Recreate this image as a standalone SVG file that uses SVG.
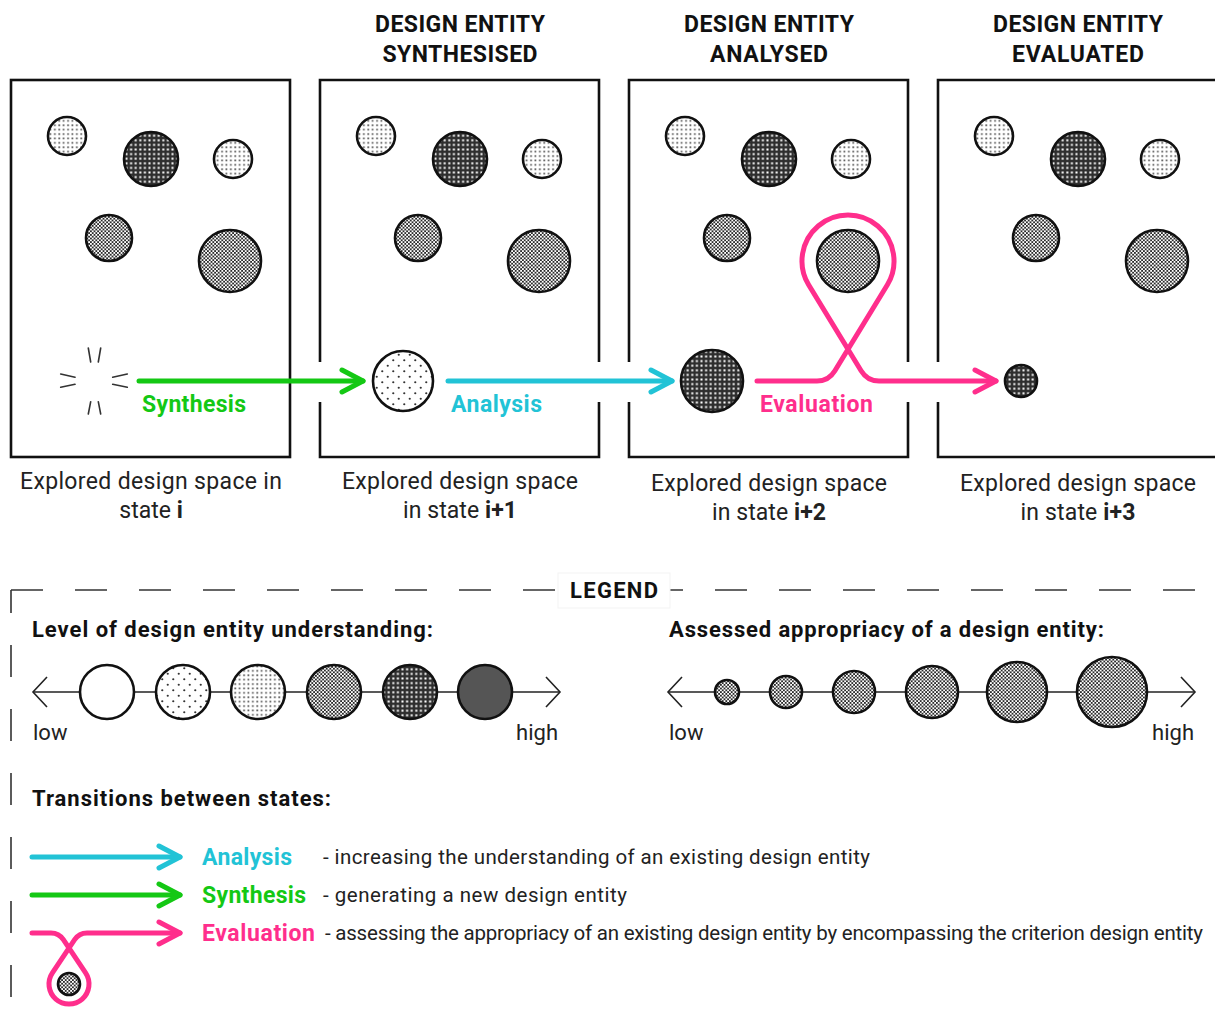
<svg xmlns="http://www.w3.org/2000/svg" width="1215" height="1023" viewBox="0 0 1215 1023">
<style>
text{font-family:Roboto,"Liberation Sans","DejaVu Sans",sans-serif;}
.title{font-size:23px;font-weight:bold;fill:#111;text-anchor:middle;}
.cap{font-size:23px;fill:#222;text-anchor:middle;}
.head{font-size:22px;font-weight:bold;fill:#111;}
.lbl{font-size:23px;font-weight:bold;}
.desc{font-size:20.5px;fill:#222;}
.sm{font-size:22px;fill:#222;}
.frame{fill:none;stroke:#111;stroke-width:2.6;}
.ent{stroke:#111;stroke-width:2.6;}
.spark{stroke:#333;stroke-width:1.6;stroke-linecap:round;fill:none;}
.axis{stroke:#222;stroke-width:1.6;fill:none;}
.dash{stroke:#333;stroke-width:1.6;fill:none;stroke-dasharray:32 32;}
.g{stroke:#14c814;}
.c{stroke:#22c3d6;}
.p{stroke:#ff2e8c;}
.flow{fill:none;stroke-width:5;stroke-linecap:round;stroke-linejoin:round;}
</style>
<defs>
<pattern id="pSparse" patternUnits="userSpaceOnUse" width="11" height="11">
<rect width="11" height="11" fill="#fff"/>
<circle cx="2.75" cy="2.75" r="1.1" fill="#333"/>
<circle cx="8.25" cy="8.25" r="1.1" fill="#333"/>
</pattern>
<pattern id="pLight" patternUnits="userSpaceOnUse" width="4.4" height="4.4">
<rect width="4.4" height="4.4" fill="#fff"/>
<rect x="1.2" y="1.2" width="1.7" height="1.7" fill="#555"/>
</pattern>
<pattern id="pCheck" patternUnits="userSpaceOnUse" width="3.6" height="3.6">
<rect width="3.6" height="3.6" fill="#fff"/>
<rect width="1.8" height="1.8" fill="#2a2a2a"/>
<rect x="1.8" y="1.8" width="1.8" height="1.8" fill="#2a2a2a"/>
</pattern>
<pattern id="pDark" patternUnits="userSpaceOnUse" width="4.6" height="4.6">
<rect width="4.6" height="4.6" fill="#2e2e2e"/>
<rect x="1.3" y="1.3" width="2" height="2" fill="#fff"/>
</pattern>
<marker id="mG" markerUnits="userSpaceOnUse" markerWidth="30" markerHeight="30" orient="auto" overflow="visible"><path d="M -21 -11 L 0 0 L -21 11" fill="none" stroke="#14c814" stroke-width="5" stroke-linecap="round" stroke-linejoin="round"/></marker>
<marker id="mC" markerUnits="userSpaceOnUse" markerWidth="30" markerHeight="30" orient="auto" overflow="visible"><path d="M -21 -11 L 0 0 L -21 11" fill="none" stroke="#22c3d6" stroke-width="5" stroke-linecap="round" stroke-linejoin="round"/></marker>
<marker id="mP" markerUnits="userSpaceOnUse" markerWidth="30" markerHeight="30" orient="auto" overflow="visible"><path d="M -21 -11 L 0 0 L -21 11" fill="none" stroke="#ff2e8c" stroke-width="5" stroke-linecap="round" stroke-linejoin="round"/></marker>
<g id="cluster">
<circle class="ent" cx="67" cy="136" r="19" fill="url(#pLight)"/>
<circle class="ent" cx="151" cy="159" r="27" fill="url(#pDark)"/>
<circle class="ent" cx="233" cy="159" r="19" fill="url(#pLight)"/>
<circle class="ent" cx="109" cy="238" r="23" fill="url(#pCheck)"/>
</g>
</defs>
<rect width="1215" height="1023" fill="#fff"/>

<!-- titles -->
<g id="titles">
<text class="title" x="460" y="32" textLength="170">DESIGN ENTITY</text>
<text class="title" x="460" y="62" textLength="155">SYNTHESISED</text>
<text class="title" x="769" y="32" textLength="170">DESIGN ENTITY</text>
<text class="title" x="769" y="62" textLength="118">ANALYSED</text>
<text class="title" x="1078" y="32" textLength="170">DESIGN ENTITY</text>
<text class="title" x="1078" y="62" textLength="132">EVALUATED</text>
</g>

<!-- panel 1 -->
<g id="panel-1">
<rect class="frame" x="11" y="80" width="279" height="377"/>
<use href="#cluster"/>
<circle class="ent" cx="230" cy="261" r="31" fill="url(#pCheck)"/>
<g class="spark">
<line x1="88.3" y1="348" x2="90.7" y2="362"/>
<line x1="100.7" y1="348" x2="98.3" y2="362"/>
<line x1="60.7" y1="374" x2="75" y2="377.3"/>
<line x1="60.7" y1="387.3" x2="75" y2="384.3"/>
<line x1="112.7" y1="377.3" x2="127.3" y2="374"/>
<line x1="112.7" y1="384.3" x2="127.3" y2="387.3"/>
<line x1="90.7" y1="401.7" x2="88.3" y2="414"/>
<line x1="98.3" y1="401.7" x2="100.7" y2="414"/>
</g>
<text class="cap" x="151" y="489" textLength="262">Explored design space in</text>
<text class="cap" x="151" y="518">state <tspan font-weight="bold">i</tspan></text>
</g>

<!-- panel 2 -->
<g id="panel-2">
<path class="frame" d="M 320 362 V 80 H 599 V 362 M 599 402 V 457 H 320 V 402"/>
<use href="#cluster" x="309"/>
<circle class="ent" cx="539" cy="261" r="31" fill="url(#pCheck)"/>
<circle class="ent" cx="403" cy="381" r="30" fill="url(#pSparse)"/>
<text class="cap" x="460" y="489" textLength="236">Explored design space</text>
<text class="cap" x="460" y="518" textLength="114">in state <tspan font-weight="bold">i+1</tspan></text>
</g>

<!-- panel 3 -->
<g id="panel-3">
<path class="frame" d="M 629 362 V 80 H 908 V 362 M 908 402 V 457 H 629 V 402"/>
<use href="#cluster" x="618"/>
<circle class="ent" cx="848" cy="261" r="31" fill="url(#pCheck)"/>
<circle class="ent" cx="712" cy="381" r="31" fill="url(#pDark)"/>
<text class="cap" x="769" y="491" textLength="236">Explored design space</text>
<text class="cap" x="769" y="520" textLength="114">in state <tspan font-weight="bold">i+2</tspan></text>
</g>

<!-- panel 4 -->
<g id="panel-4">
<path class="frame" d="M 938 362 V 80 H 1218 V 457 H 938 V 402"/>
<use href="#cluster" x="927"/>
<circle class="ent" cx="1157" cy="261" r="31" fill="url(#pCheck)"/>
<circle class="ent" cx="1021" cy="381" r="16" fill="url(#pDark)"/>
<text class="cap" x="1078" y="491" textLength="236">Explored design space</text>
<text class="cap" x="1078" y="520" textLength="115">in state <tspan font-weight="bold">i+3</tspan></text>
</g>

<!-- connectors -->
<g id="connectors">
<path class="flow g" d="M 139 381 H 363" marker-end="url(#mG)"/>
<path class="flow c" d="M 448 381 H 672" marker-end="url(#mC)"/>
<path class="flow p" d="M 757 381 H 817 Q 828.7 381 834.9 370.7 L 887.4 284.8 A 46 46 0 1 0 808.6 284.8 L 861.1 370.7 Q 867.3 381 879 381 H 996" marker-end="url(#mP)"/>
<text class="lbl" x="142" y="412" fill="#14c814" textLength="104">Synthesis</text>
<text class="lbl" x="451" y="412" fill="#22c3d6" textLength="91">Analysis</text>
<text class="lbl" x="760" y="412" fill="#ff2e8c" textLength="113">Evaluation</text>
</g>

<!-- legend frame -->
<g id="legend-frame">
<line class="dash" x1="11" y1="590" x2="1196" y2="590"/>
<line class="dash" x1="11" y1="590" x2="11" y2="1000" stroke-dashoffset="9"/>
<rect x="558" y="573" width="112" height="35" fill="#fff" stroke="#f3f3f3" stroke-width="1"/>
<text class="head" x="570" y="598" textLength="88">LEGEND</text>
</g>

<!-- legend: understanding -->
<g id="legend-understanding">
<text class="head" x="32" y="637" textLength="401">Level of design entity understanding:</text>
<line class="axis" x1="33" y1="692" x2="560" y2="692"/>
<path class="axis" d="M 47 677 L 33 692 L 47 707 M 546 677 L 560 692 L 546 707"/>
<circle class="ent" cx="107" cy="692" r="27" fill="#fff"/>
<circle class="ent" cx="183" cy="692" r="27" fill="url(#pSparse)"/>
<circle class="ent" cx="258" cy="692" r="27" fill="url(#pLight)"/>
<circle class="ent" cx="334" cy="692" r="27" fill="url(#pCheck)"/>
<circle class="ent" cx="410" cy="692" r="27" fill="url(#pDark)"/>
<circle class="ent" cx="485" cy="692" r="27" fill="#555"/>
<text class="sm" x="33" y="740">low</text>
<text class="sm" x="558" y="740" text-anchor="end">high</text>
</g>

<!-- legend: appropriacy -->
<g id="legend-appropriacy">
<text class="head" x="669" y="637" textLength="435">Assessed appropriacy of a design entity:</text>
<line class="axis" x1="668" y1="692" x2="1195" y2="692"/>
<path class="axis" d="M 682 677 L 668 692 L 682 707 M 1181 677 L 1195 692 L 1181 707"/>
<circle class="ent" cx="727" cy="692" r="12" fill="url(#pCheck)"/>
<circle class="ent" cx="786" cy="692" r="16" fill="url(#pCheck)"/>
<circle class="ent" cx="854" cy="692" r="21" fill="url(#pCheck)"/>
<circle class="ent" cx="932" cy="692" r="26" fill="url(#pCheck)"/>
<circle class="ent" cx="1017" cy="692" r="30" fill="url(#pCheck)"/>
<circle class="ent" cx="1112" cy="692" r="35" fill="url(#pCheck)"/>
<text class="sm" x="669" y="740">low</text>
<text class="sm" x="1194" y="740" text-anchor="end">high</text>
</g>

<!-- legend: transitions -->
<g id="legend-transitions">
<text class="head" x="32" y="806" textLength="299">Transitions between states:</text>
<path class="flow c" d="M 32 857 H 180" marker-end="url(#mC)"/>
<path class="flow g" d="M 32 895 H 180" marker-end="url(#mG)"/>
<path class="flow p" d="M 32 933 H 51 Q 59 933 63.4 939.7 L 85.6 972.9 A 20 20 0 1 1 52.4 972.9 L 74.6 939.7 Q 79 933 87 933 H 180" marker-end="url(#mP)"/>
<circle class="ent" cx="69" cy="984" r="11" fill="url(#pCheck)"/>
<text class="lbl" x="202" y="865" fill="#22c3d6" textLength="90">Analysis</text>
<text class="lbl" x="202" y="903" fill="#14c814" textLength="104">Synthesis</text>
<text class="lbl" x="202" y="941" fill="#ff2e8c" textLength="113">Evaluation</text>
<text class="desc" x="323" y="864" textLength="547">- increasing the understanding of an existing design entity</text>
<text class="desc" x="323" y="902" textLength="304">- generating a new design entity</text>
<text class="desc" x="325" y="940" textLength="878">- assessing the appropriacy of an existing design entity by encompassing the criterion design entity</text>
</g>
</svg>
